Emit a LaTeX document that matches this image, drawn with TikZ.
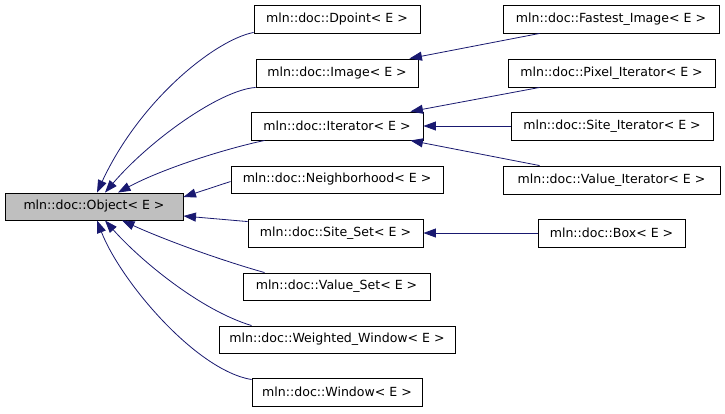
\documentclass[tikz,border=0pt]{standalone}
\usepackage{fontspec}
\setmainfont{DejaVu Sans}
\usetikzlibrary{arrows.meta}
\definecolor{edgecol}{HTML}{191970}
\definecolor{objgray}{HTML}{BFBFBF}
\begin{document}
\begin{tikzpicture}[x=1bp,y=-1bp,
  cls/.style={draw=black, line width=0.9bp, inner sep=0pt, minimum height=28bp, font=\fontsize{12.6}{14}\selectfont, text=black},
  edge/.style={draw=edgecol, line width=0.8bp, -{Triangle[length=12.5bp,width=9bp,fill=edgecol]}}]
\useasboundingbox (0,0) rectangle (725,413);
\fill[white] (0,0) rectangle (725,413);
\node[cls, minimum width=178bp, minimum height=27bp, fill=objgray] (obj) at (94,206.5) {mln::doc::Object< E >};
\node[cls, minimum width=166bp] (dpoint) at (337,19) {mln::doc::Dpoint< E >};
\node[cls, minimum width=162bp] (image) at (337,73) {mln::doc::Image< E >};
\node[cls, minimum width=172bp] (iter) at (337,126) {mln::doc::Iterator< E >};
\node[cls, minimum width=212bp, minimum height=27bp] (neigh) at (337,179.5) {mln::doc::Neighborhood< E >};
\node[cls, minimum width=175bp] (siteset) at (335.5,233) {mln::doc::Site\_Set< E >};
\node[cls, minimum width=187bp, minimum height=27bp] (valset) at (336.5,286.5) {mln::doc::Value\_Set< E >};
\node[cls, minimum width=236bp, minimum height=27bp] (ww) at (337,339.5) {mln::doc::Weighted\_Window< E >};
\node[cls, minimum width=170bp] (window) at (337,392) {mln::doc::Window< E >};
\node[cls, minimum width=216bp] (fast) at (611,19) {mln::doc::Fastest\_Image< E >};
\node[cls, minimum width=207bp] (pixel) at (611.5,73) {mln::doc::Pixel\_Iterator< E >};
\node[cls, minimum width=202bp] (siteit) at (612,126) {mln::doc::Site\_Iterator< E >};
\node[cls, minimum width=217bp] (valit) at (611.5,180) {mln::doc::Value\_Iterator< E >};
\node[cls, minimum width=147bp] (box) at (611.5,233) {mln::doc::Box< E >};

\draw[edge] ([yshift=1bp]dpoint.south west) .. controls (215,40) and (140,100) .. ([xshift=3bp]obj.north);
\draw[edge] (image.south west) .. controls (220,90) and (150,140) .. ([xshift=11bp]obj.north);
\draw[edge] ([xshift=14bp]iter.south west) .. controls (220,150) and (160,170) .. ([xshift=24bp]obj.north);
\draw[edge] ([yshift=-2bp]neigh.west) -- ([yshift=9.5bp]obj.east);
\draw[edge] ([yshift=-3bp]siteset.north west) -- ([yshift=-9.5bp]obj.east);
\draw[edge] ([xshift=22bp]valset.north west) .. controls (220,260) and (165,240) .. ([xshift=28bp]obj.south);
\draw[edge] ([xshift=33bp]ww.north west) .. controls (200,310) and (140,260) .. ([xshift=11bp]obj.south);
\draw[edge] ([yshift=-2bp]window.north west) .. controls (195,370) and (120,280) .. ([xshift=3bp]obj.south);

\draw[edge] ([xshift=37bp]fast.south west) -- ([xshift=-9bp]image.north east);
\draw[edge] ([xshift=32bp]pixel.south west) -- ([xshift=-13bp]iter.north east);
\draw[edge] (siteit.west) -- (iter.east);
\draw[edge] ([xshift=37bp]valit.north west) -- ([xshift=-13bp]iter.south east);
\draw[edge] (box.west) -- (siteset.east);
\end{tikzpicture}
\end{document}
